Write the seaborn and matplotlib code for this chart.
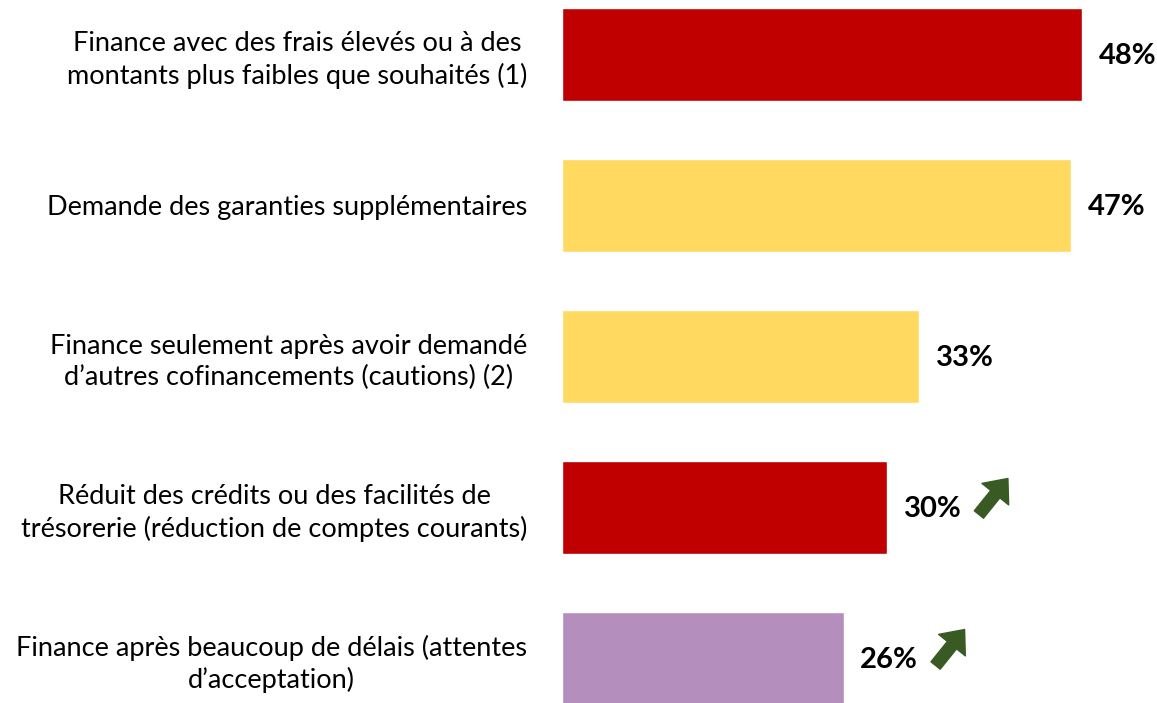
import pandas as pd
import matplotlib
matplotlib.use("Agg")
import matplotlib.pyplot as plt
from matplotlib.transforms import offset_copy
import seaborn as sns

# Données
categories = [
    "Finance avec des frais élevés ou à des\nmontants plus faibles que souhaités (1)",
    "Demande des garanties supplémentaires",
    "Finance seulement après avoir demandé\nd\u2019autres cofinancements (cautions) (2)",
    "Réduit des crédits ou des facilités de\ntrésorerie (réduction de comptes courants)",
    "Finance après beaucoup de délais (attentes\nd\u2019acceptation)",
]
values = [48, 47, 33, 30, 26]
bar_colors = ["#C00000", "#FFD960", "#FFD960", "#C00000", "#B48FBD"]
hausse = [False, False, False, True, True]

df = pd.DataFrame({"categorie": categories, "valeur": values})

sns.set_style("white")
plt.rcParams["font.family"] = ["Lato", "DejaVu Sans"]

fig = plt.figure(figsize=(11.57, 7.03), dpi=100)
ax = fig.add_axes([562 / 1157, 0, 595 / 1157, 1])

sns.barplot(data=df, x="valeur", y="categorie", hue="categorie",
            palette=bar_colors, width=0.616, legend=False, ax=ax,
            saturation=1)

ax.set_xlim(0, 595 / 10.83)
ax.set_ylim((703 - 54.5) / 151, -54.5 / 151)
ax.set_xlabel("")
ax.set_ylabel("")
ax.set_xticks([])
sns.despine(ax=ax, left=True, bottom=True)
ax.tick_params(axis="y", length=0, pad=25, labelsize=19.5, labelcolor="black")
for lab in ax.get_yticklabels():
    lab.set_multialignment("center")
    lab.set_linespacing(1.3)

for i, v in enumerate(values):
    ax.annotate(f"{v}%", xy=(v, i), xytext=(12, -1), textcoords="offset points",
                ha="left", va="center", fontsize=21, fontweight="bold",
                color="black")
    if hausse[i]:
        # flèche de hausse
        head = offset_copy(ax.transData, fig=fig, x=121, y=29, units="dots")
        tail = offset_copy(ax.transData, fig=fig, x=92, y=-7, units="dots")
        ax.annotate("", xy=(v, i), xycoords=head, xytext=(v, i), textcoords=tail,
                    arrowprops=dict(arrowstyle="simple,head_length=0.85,head_width=1.45,tail_width=0.5",
                                    color="#3A5A24", mutation_scale=17, shrinkA=0, shrinkB=0))

fig.savefig("out.png", dpi=100)
